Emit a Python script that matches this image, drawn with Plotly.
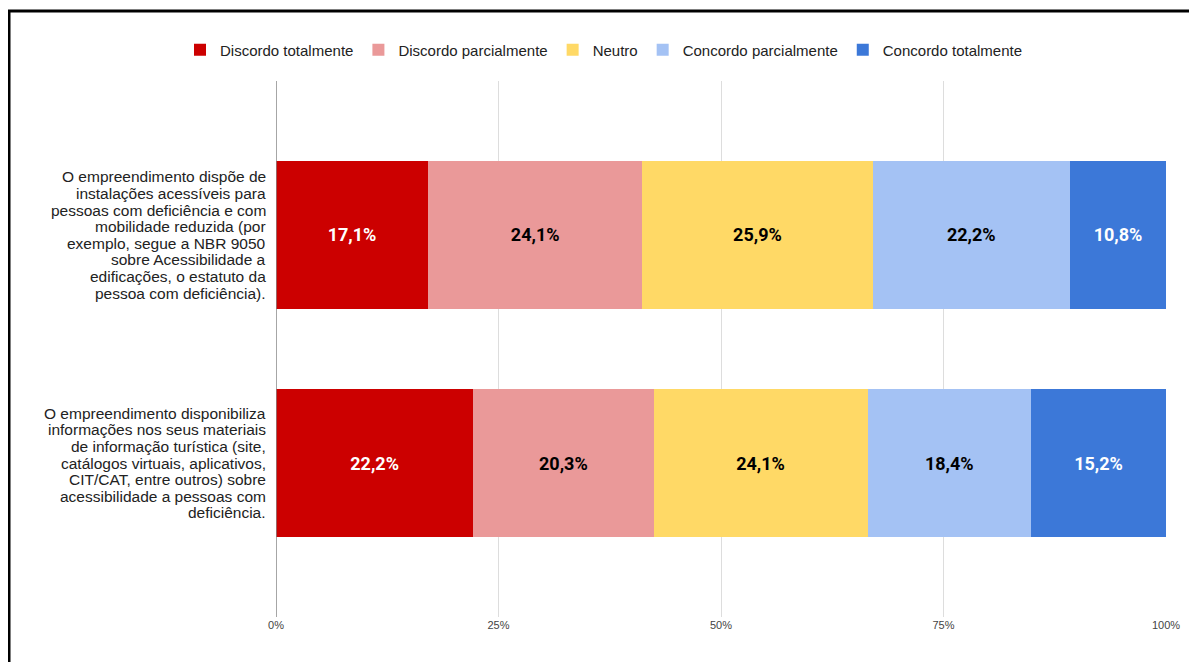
import plotly.graph_objects as go

categories = [
    "O empreendimento dispõe de<br>instalações acessíveis para<br>pessoas com deficiência e com<br>mobilidade reduzida (por<br>exemplo, segue a NBR 9050<br>sobre Acessibilidade a<br>edificações, o estatuto da<br>pessoa com deficiência).",
    "O empreendimento disponibiliza<br>informações nos seus materiais<br>de informação turística (site,<br>catálogos virtuais, aplicativos,<br>CIT/CAT, entre outros) sobre<br>acessibilidade a pessoas com<br>deficiência.",
]
series_names = ["Discordo totalmente", "Discordo parcialmente", "Neutro",
                "Concordo parcialmente", "Concordo totalmente"]
discordo_totalmente = [17.1, 22.2]
discordo_parcialmente = [24.1, 20.3]
neutro = [25.9, 24.1]
concordo_parcialmente = [22.2, 18.4]
concordo_totalmente = [10.8, 15.2]
series_values = [discordo_totalmente, discordo_parcialmente, neutro,
                 concordo_parcialmente, concordo_totalmente]
x_tick_vals = [0, 25, 50, 75, 100]
x_tick_text = ["0%", "25%", "50%", "75%", "100%"]

colors = ["#cc0000", "#ea9999", "#ffd966", "#a4c2f4", "#3c78d8"]
text_colors = ["#ffffff", "#000000", "#000000", "#000000", "#ffffff"]

# page body has an 8px margin; positions below are given in page pixels
OFF = 8
W, H = 1197, 662
ML = 276 - OFF
MT = 81 - OFF
MR = W - (1166 - OFF)
MB = H - (617 - OFF)
PW, PH = W - ML - MR, H - MT - MB


def px_x(p):
    return (p - OFF - ML) / PW


def px_y(p):
    return (H - MB - (p - OFF)) / PH


ypos = list(range(len(categories)))

fig = go.Figure()
for name, vals, col, tcol in zip(series_names, series_values, colors, text_colors):
    fig.add_trace(go.Bar(
        name=name, y=ypos, x=vals, orientation="h",
        marker=dict(color=col, line=dict(width=0)),
        text=[f"{v:.1f}%".replace(".", ",") for v in vals],
        textposition="inside", insidetextanchor="middle",
        textfont=dict(family="Roboto", size=18, color=tcol, weight="bold"),
        hoverinfo="skip",
    ))

LINE_H = 16.6
annotations = []
for i, cat in enumerate(categories):
    lines = cat.split("<br>")
    n = len(lines)
    for k, ln in enumerate(lines):
        annotations.append(dict(
            x=px_x(268), xref="paper", y=i, yref="y", text=ln,
            yshift=-(k - (n - 1) / 2) * LINE_H,
            showarrow=False, xanchor="right", yanchor="middle", align="right",
            font=dict(family="Liberation Sans", size=15.5, color="#222222"),
        ))

shapes = [
    dict(type="line", xref="paper", yref="paper", x0=px_x(8), x1=px_x(1210),
         y0=px_y(11), y1=px_y(11), line=dict(color="#000000", width=3)),
    dict(type="line", xref="paper", yref="paper", x0=px_x(9), x1=px_x(9),
         y0=px_y(10), y1=px_y(680), line=dict(color="#000000", width=3)),
    dict(type="line", xref="x", yref="paper", x0=0, x1=0, y0=0, y1=1,
         line=dict(color="#888888", width=1.5)),
]

fig.update_layout(
    width=W, height=H,
    margin=dict(l=ML, r=MR, t=MT, b=MB),
    paper_bgcolor="#ffffff", plot_bgcolor="#ffffff",
    barmode="stack", barnorm="percent", bargap=0.35,
    showlegend=True,
    legend=dict(orientation="h", x=px_x(604), xanchor="center",
                y=px_y(50), yanchor="middle",
                font=dict(family="Liberation Sans", size=15, color="#222222"),
                traceorder="normal", itemclick=False, itemdoubleclick=False),
    xaxis=dict(range=[0, 100], tickvals=x_tick_vals, ticktext=x_tick_text,
               showgrid=True, gridcolor="#dddddd", gridwidth=1,
               zeroline=False, showline=False, ticks="",
               tickfont=dict(family="Liberation Sans Narrow, Liberation Sans", size=11, color="#444444"),
               fixedrange=True),
    yaxis=dict(range=[len(categories) - 1 + 0.675, -0.675], showticklabels=False,
               showgrid=False, zeroline=False, showline=False, ticks="",
               fixedrange=True),
    annotations=annotations,
    shapes=shapes,
    uniformtext=dict(mode=False),
)

fig.write_html("out.html")
